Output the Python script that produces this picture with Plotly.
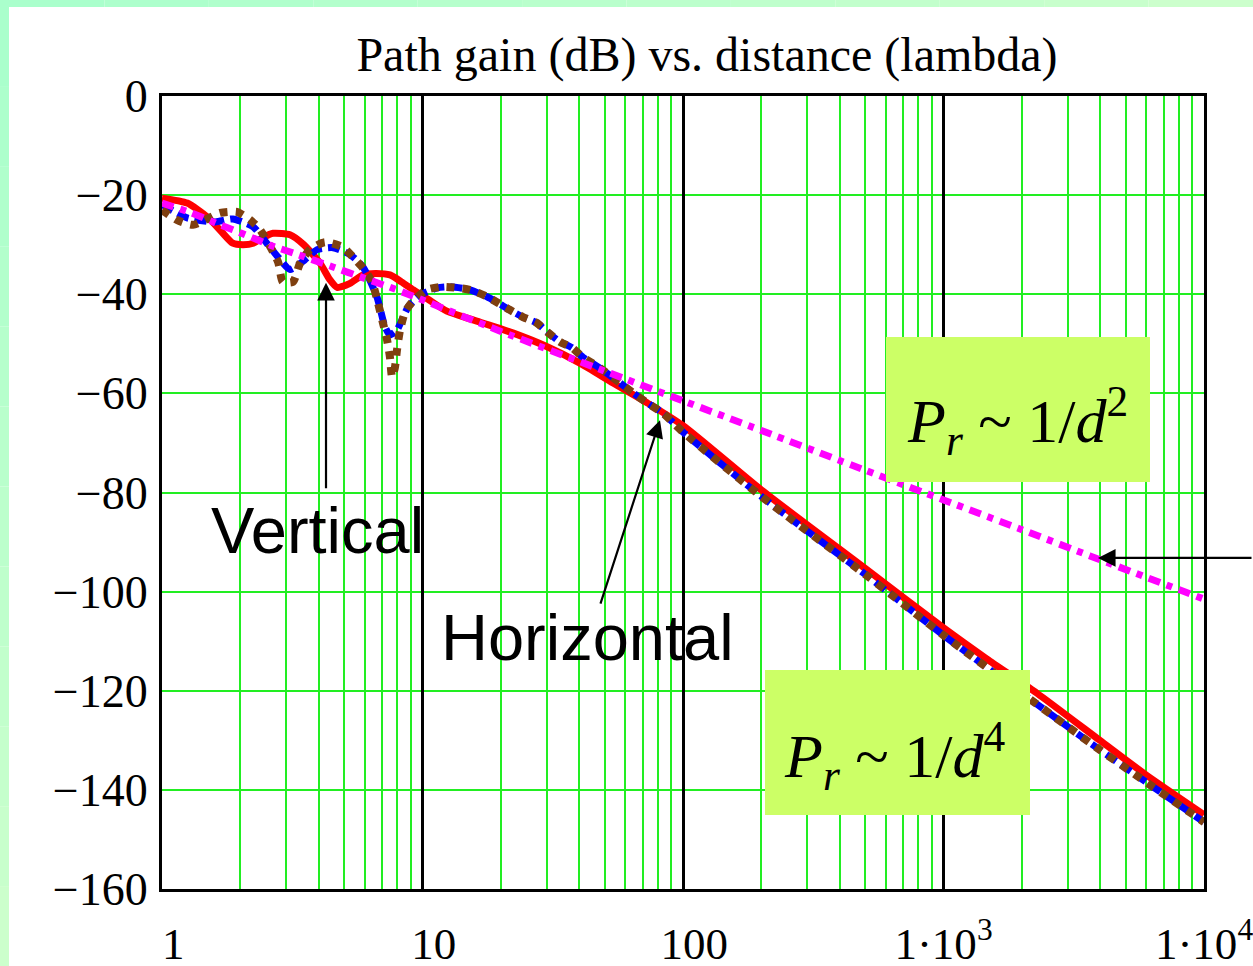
import plotly.graph_objects as go

# ---------------- data ----------------
red_d = [1.0, 1.25, 1.5, 1.7, 1.87, 2.05, 2.24, 2.45, 2.67, 3.1, 3.5, 4.04, 4.4, 4.7, 5.27,
         5.91, 6.6, 7.5, 8.3, 9.2, 10.5, 12.4, 16.6, 22.2, 30.1, 40.2, 53.9, 72.8, 100,
         200, 500, 1000, 1469, 2285, 3981, 6000, 10000]
red_db = [-20.6, -21.6, -24.5, -27.5, -29.7, -30.0, -29.7, -28.5, -27.7, -28.0, -30.0, -33.7, -37.0,
          -38.6, -37.8, -36.1, -35.8, -36.1, -37.5, -39.1, -41.0, -43.4, -45.6, -47.8, -50.6, -53.9,
          -57.9, -61.9, -66.5, -79.5, -95.3, -107.3, -113.6, -120.5, -130.0, -137.0, -145.0]

blue_d = [1.0, 1.25, 1.6, 1.87, 2.24, 2.55, 2.79, 3.1, 3.54, 3.94, 4.53, 5.27, 5.91, 6.69, 7.18,
          7.5, 7.98, 8.8, 9.78, 11.4, 12.8, 15.2, 17.7, 21.7, 24.3, 27.5, 30.1, 33.7, 37.5, 41.3,
          48.0, 57.3, 64.3, 72.8, 83.8, 100, 200, 500, 1000, 2000, 4000, 10000]
blue_db = [-21.9, -24.6, -25.4, -24.8, -26.4, -30.0, -32.5, -35.0, -33.0, -31.0, -30.6, -32.0,
           -34.5, -40.6, -46.6, -48.2, -47.2, -42.6, -40.2, -38.7, -38.5, -39.1, -40.5, -43.2,
           -44.6, -45.8, -47.6, -49.6, -50.8, -52.7, -54.9, -57.9, -59.9, -61.9, -64.0, -67.8,
           -80.8, -96.5, -108.8, -120.5, -132.0, -146.5]

brown_d = [1.0, 1.14, 1.315, 1.67, 1.94, 2.18, 2.38, 2.79, 2.91, 3.18, 3.39, 3.70, 4.22, 4.95,
           5.41, 5.91, 6.4, 6.75, 7.05, 7.31, 7.5, 7.64, 7.84, 7.98, 8.2, 8.57, 9.12, 10.4, 12.0,
           15.2, 17.7, 21.7, 24.3, 27.5, 30.1, 33.7, 37.5, 41.3, 48.0, 57.3, 64.3, 72.8, 83.8,
           100, 200, 500, 1000, 2000, 4000, 10000]
brown_db = [-23.0, -25.0, -26.0, -23.6, -23.4, -25.0, -27.0, -33.5, -37.5, -37.5, -33.7, -31.0,
            -29.5, -30.5, -32.5, -34.7, -37.5, -41.8, -45.8, -49.2, -52.7, -56.7, -54.7, -51.3,
            -47.2, -43.6, -41.6, -39.1, -38.5, -39.1, -40.5, -43.2, -44.6, -45.8, -47.6, -49.6,
            -50.8, -52.7, -54.9, -57.9, -59.9, -61.9, -64.0, -67.8, -80.8, -96.5, -108.8,
            -120.5, -132.0, -146.5]

mag_d = [1.0, 1.3, 1.67, 1.87, 2.2, 2.7, 3.2, 4.53, 6.0, 7.6, 9.0, 20, 50, 100, 200, 500, 1000,
         2000, 3652, 10000]
mag_db = [-21.6, -23.6, -26.0, -27.0, -28.5, -30.4, -31.7, -34.5, -36.8, -38.7, -40.2, -47.5,
          -55.5, -61.5, -67.5, -75.5, -81.5, -87.5, -92.8, -101.5]

y_ticks = [0, -20, -40, -60, -80, -100, -120, -140, -160]
x_major = [1, 10, 100, 1000, 10000]
x_major_text = ["&nbsp;&nbsp;1", "&nbsp;&nbsp;10", "&nbsp;&nbsp;100", "1·10<sup>3</sup>", "1·10<sup>4</sup>"]
x_minor = [m * 10 ** k for k in range(4) for m in range(2, 10)]

# ---------------- geometry ----------------
W, H = 1253, 966
ML, MR, MT, MB = 162, 49, 96, 77
PW, PH = W - ML - MR, H - MT - MB


def px(x):
    return (x - ML) / PW


def py(y):
    return 1 - (y - MT) / PH


SERIF = "Liberation Serif, Times New Roman, serif"
SANS = "Liberation Sans, Arial, sans-serif"
GREEN = "#22ee22"

fig = go.Figure()
fig.add_trace(go.Scatter(x=red_d, y=red_db, mode="lines", line=dict(color="#ff0000", width=7, shape="spline", smoothing=0.6), hoverinfo="skip"))
fig.add_trace(go.Scatter(x=blue_d, y=blue_db, mode="lines", line=dict(color="#0000ff", width=7, dash="12px,6px", shape="spline", smoothing=0.6), hoverinfo="skip"))
fig.add_trace(go.Scatter(x=brown_d, y=brown_db, mode="lines", line=dict(color="#7f4010", width=8, dash="8px,8px", shape="spline", smoothing=0.6), hoverinfo="skip"))
fig.add_trace(go.Scatter(x=mag_d, y=mag_db, mode="lines", line=dict(color="#ff00ff", width=7, dash="12px,7px,6px,7px", shape="spline", smoothing=0.6), hoverinfo="skip"))
# anchor trace for the overlay axis carrying the decade lines
fig.add_trace(go.Scatter(x=[1], y=[-500], xaxis="x2", mode="markers", marker=dict(opacity=0), hoverinfo="skip", showlegend=False))

shapes = []
# page background: mint frame with white panel
n = 12
for i in range(n):
    t = i / (n - 1)
    g = int(170 + (204 - 170) * t)
    col = f"rgb({g},255,204)"
    shapes.append(dict(type="rect", xref="paper", yref="paper", layer="below",
                       x0=px(0), x1=px(9), y0=py(7 + (H - 7) * (i + 1) / n), y1=py(7 + (H - 7) * i / n),
                       fillcolor=col, line=dict(width=0)))
    shapes.append(dict(type="rect", xref="paper", yref="paper", layer="below",
                       x0=px(W * i / n), x1=px(W * (i + 1) / n), y0=py(7), y1=py(0),
                       fillcolor=col, line=dict(width=0)))
# formula boxes
LIME = "#ccff66"
shapes.append(dict(type="rect", xref="paper", yref="paper", x0=px(886), x1=px(1150), y0=py(482), y1=py(337),
                   fillcolor=LIME, line=dict(width=0), layer="above"))
shapes.append(dict(type="rect", xref="paper", yref="paper", x0=px(765), x1=px(1030), y0=py(815), y1=py(670),
                   fillcolor=LIME, line=dict(width=0), layer="above"))

ann = []
ann.append(dict(xref="paper", yref="paper", x=px(1017), y=py(420), text="<i>P</i><sub><i>r</i></sub> ~ 1/<i>d</i><sup>2</sup>",
                showarrow=False, font=dict(family=SERIF, size=62, color="black"), xanchor="center", yanchor="middle"))
ann.append(dict(xref="paper", yref="paper", x=px(895), y=py(755), text="<i>P</i><sub><i>r</i></sub> ~ 1/<i>d</i><sup>4</sup>",
                showarrow=False, font=dict(family=SERIF, size=62, color="black"), xanchor="center", yanchor="middle"))
ann.append(dict(xref="paper", yref="paper", x=px(317), y=py(530), text="Vertical", showarrow=False,
                font=dict(family=SANS, size=65, color="black"), xanchor="center", yanchor="middle"))
ann.append(dict(xref="paper", yref="paper", x=px(587), y=py(637), text="Horizontal", showarrow=False,
                font=dict(family=SANS, size=65, color="black"), xanchor="center", yanchor="middle"))
# arrows (tips on the curves)
arrow = dict(showarrow=True, arrowhead=2, arrowsize=1.6, arrowwidth=2.2, arrowcolor="black", text="",
             xref="x", yref="y", axref="pixel", ayref="pixel")
ann.append(dict(arrow, x=0.6296, y=-37.7, ax=0, ay=207))
ann.append(dict(arrow, x=1.9117, y=-65.4, ax=-60, ay=185))
ann.append(dict(arrow, x=3.593, y=-93.2, ax=170, ay=0))

fig.update_layout(
    width=W, height=H, margin=dict(l=ML, r=MR, t=MT, b=MB, pad=0, autoexpand=False),
    paper_bgcolor="white", plot_bgcolor="white", showlegend=False,
    title=dict(text="Path gain (dB) vs. distance (lambda)", x=707 / W, xanchor="center",
               y=1 - 54 / H, yanchor="middle", yref="container",
               font=dict(family=SERIF, size=48, color="black")),
    xaxis=dict(type="log", range=[0, 4], tickvals=x_minor, showticklabels=False, ticks="",
               showgrid=True, gridcolor=GREEN, gridwidth=2, automargin=False,
               showline=True, mirror=True, linecolor="black", linewidth=3, zeroline=False),
    xaxis2=dict(type="log", range=[0, 4], overlaying="x", anchor="y", side="bottom",
                tickvals=x_major, ticktext=x_major_text, ticks="", showgrid=True, gridcolor="black",
                gridwidth=3, showline=False, zeroline=False, ticklabelstandoff=24,
                ticklabeloverflow="allow", automargin=False,
                tickfont=dict(family=SERIF, size=45, color="black")),
    yaxis=dict(range=[-160, 0], tickvals=y_ticks, ticks="", showgrid=True, gridcolor=GREEN, gridwidth=2,
               zeroline=False, showline=True, mirror=True, linecolor="black", linewidth=3,
               ticklabelstandoff=2, automargin=False, ticklabeloverflow="allow",
               tickfont=dict(family=SERIF, size=46, color="black")),
    shapes=shapes, annotations=ann,
)

fig.write_html("out.html")
